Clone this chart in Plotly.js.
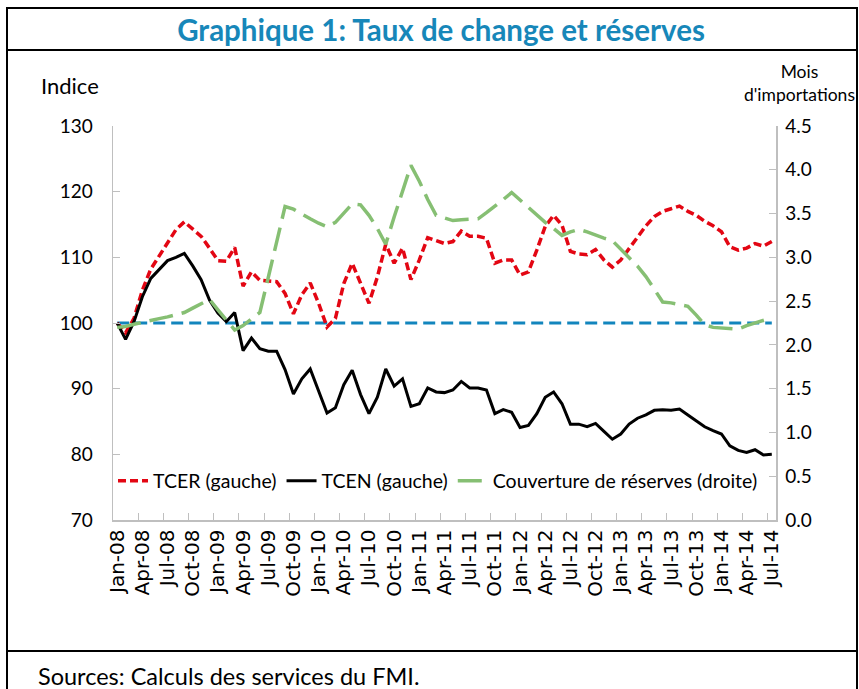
<!DOCTYPE html>
<html>
<head>
<meta charset="utf-8">
<script src="https://cdn.plot.ly/plotly-3.0.1.min.js"></script>
<style>html,body{margin:0;padding:0;background:#fff;}</style>
</head>
<body>
<div id="chart" style="width:859px;height:689px;"></div>
<script>
// ---- Data ----
const monthNames = ["Jan","Feb","Mar","Apr","May","Jun","Jul","Aug","Sep","Oct","Nov","Dec"];
const yearLabels = ["08","09","10","11","12","13","14"];
const categories = [];
for (const y of yearLabels) for (const m of monthNames) categories.push(m + "-" + y);
categories.length = 79; // Jan-08 .. Jul-14

const tickLabels = ["Jan-08","Apr-08","Jul-08","Oct-08","Jan-09","Apr-09","Jul-09","Oct-09",
  "Jan-10","Apr-10","Jul-10","Oct-10","Jan-11","Apr-11","Jul-11","Oct-11","Jan-12","Apr-12",
  "Jul-12","Oct-12","Jan-13","Apr-13","Jul-13","Oct-13","Jan-14","Apr-14","Jul-14"];

// TCER (left axis, index)
const tcer = [100, 98.5, 100.7, 105, 108.2, 110.2, 112.4, 114.2, 115.4, 114.3,
  113.2, 111.4, 109.5, 109.4, 111.5, 105.6, 107.8, 106.5, 106.4, 106.3,
  104.5, 101.4, 104.3, 106.1, 103, 99.4, 100.7, 106, 109.1, 106,
  103, 107, 112, 109.1, 111.4, 106.6, 109.6, 113, 112.5, 112.1,
  112.4, 114, 113.2, 113.2, 112.9, 109.1, 109.6, 109.6, 107.3, 107.8,
  111.1, 114.7, 116.4, 114.9, 110.9, 110.5, 110.4, 111.2, 109.6, 108.5,
  109.6, 111.4, 113, 114.8, 116.2, 117, 117.4, 117.8, 117, 116.4,
  115.5, 114.8, 113.9, 111.6, 111.1, 111.4, 112.1, 111.7, 112.4];

// TCEN (left axis, index)
const tcen = [100, 97.5, 100.2, 104, 106.8, 108.2, 109.5, 110, 110.6, 108.7,
  106.6, 103.5, 101.5, 100.2, 101.6, 95.8, 97.7, 96.1, 95.7, 95.7,
  92.9, 89.2, 91.5, 93, 89.5, 86.3, 87.1, 90.6, 92.8, 89.1,
  86.2, 88.7, 93, 90.4, 91.5, 87.3, 87.7, 90.1, 89.5, 89.4,
  89.8, 91.1, 90.1, 90.1, 89.8, 86.2, 86.8, 86.4, 84.1, 84.4,
  86.2, 88.7, 89.5, 87.7, 84.6, 84.6, 84.2, 84.7, 83.5, 82.3,
  83.1, 84.6, 85.5, 86, 86.7, 86.8, 86.7, 86.9, 86, 85.1,
  84.2, 83.6, 83.1, 81.3, 80.6, 80.3, 80.7, 79.9, 80];

// Couverture de réserves (right axis, months of imports)
const couverture = [2.20, 2.21, 2.235, 2.26, 2.28, 2.30, 2.32, 2.35, 2.37, 2.42,
  2.47, 2.52, 2.40, 2.28, 2.17, 2.22, 2.29, 2.37, 2.77, 3.18,
  3.58, 3.55, 3.49, 3.44, 3.39, 3.35, 3.40, 3.50, 3.61, 3.60,
  3.48, 3.33, 3.15, 3.46, 3.76, 4.05, 3.87, 3.66, 3.48, 3.45,
  3.42, 3.43, 3.435, 3.44, 3.51, 3.58, 3.66, 3.74, 3.655, 3.57,
  3.49, 3.40, 3.33, 3.25, 3.29, 3.32, 3.29, 3.25, 3.22, 3.19,
  3.09, 3.00, 2.90, 2.78, 2.63, 2.49, 2.48, 2.46, 2.44, 2.34,
  2.23, 2.20, 2.19, 2.18, 2.18, 2.22, 2.25, 2.28, 2.31];

// Reference line at 100
const baseline = categories.map(() => 100);

// ---- Chart ----
const traces = [
  {x: categories, y: baseline, type: 'scatter', mode: 'lines', showlegend: false, hoverinfo: 'skip',
   line: {color: '#1285BD', width: 3, dash: '12px,6px'}},
  {x: categories, y: tcer, type: 'scatter', mode: 'lines', name: 'TCER (gauche)',
   line: {color: '#E30613', width: 3.5, dash: '8px,4px'}},
  {x: categories, y: tcen, type: 'scatter', mode: 'lines', name: 'TCEN (gauche)',
   line: {color: '#000000', width: 3}},
  {x: categories, y: couverture, type: 'scatter', mode: 'lines', name: 'Couverture de réserves (droite)',
   yaxis: 'y2', line: {color: '#86BF73', width: 3.5, dash: '24px,9px'}}
];

const L = 113, T = 126, W = 663, H = 394;
const px = x => (x - L) / W;
const py = y => (T + H - y) / H;
const axisGray = '#BFBFBF';
const textFont = 'Lato, "Open Sans", sans-serif';

const layout = {
  width: 859, height: 689,
  margin: {l: L, r: 859 - L - W, t: T, b: 689 - T - H, pad: 0},
  paper_bgcolor: '#ffffff', plot_bgcolor: '#ffffff',
  title: {text: 'Graphique 1: Taux de change et réserves',
    font: {family: textFont, size: 29.5, color: '#1787B9', weight: 'bold'},
    xref: 'container', yref: 'container', x: 441 / 859, y: 1 - 31 / 689,
    xanchor: 'center', yanchor: 'middle'},
  xaxis: {type: 'category', categoryorder: 'array', categoryarray: categories,
    range: [-0.5, 78.5], tickmode: 'array', tickvals: tickLabels, ticktext: tickLabels,
    tickangle: -90, tickson: 'boundaries', ticks: 'inside', ticklen: 7, tickcolor: axisGray,
    showline: true, linecolor: axisGray, linewidth: 1.5, showgrid: false, zeroline: false,
    tickfont: {family: '"DejaVu Sans", sans-serif', size: 20, color: '#000'}},
  yaxis: {range: [70, 130], dtick: 10, ticks: 'inside', ticklen: 7, tickcolor: axisGray,
    showline: true, linecolor: axisGray, linewidth: 1.5, showgrid: false, zeroline: false,
    ticklabelstandoff: 15,
    tickfont: {family: textFont, size: 19, color: '#000'}},
  yaxis2: {overlaying: 'y', side: 'right', range: [0, 4.5], dtick: 0.5, tickformat: '.1f',
    ticks: 'inside', ticklen: 7, tickcolor: axisGray,
    showline: true, linecolor: axisGray, linewidth: 1.5, showgrid: false, zeroline: false,
    ticklabelstandoff: 4,
    tickfont: {family: textFont, size: 19, color: '#000'}},
  legend: {orientation: 'h', x: 0, xanchor: 'left', y: py(481), yanchor: 'middle',
    font: {family: textFont, size: 19.5, color: '#000'}, bgcolor: 'rgba(255,255,255,0)',
    itemwidth: 30, tracegroupgap: 0},
  annotations: [
    {text: 'Indice', xref: 'paper', yref: 'paper', x: px(70), y: py(85),
     xanchor: 'center', yanchor: 'middle', showarrow: false,
     font: {family: textFont, size: 22, color: '#000'}},
    {text: 'Mois<br>d\'importations', xref: 'paper', yref: 'paper', x: px(799), y: py(83),
     xanchor: 'center', yanchor: 'middle', showarrow: false, align: 'center',
     font: {family: textFont, size: 17.5, color: '#000'}},
    {text: 'Sources: Calculs des services du FMI.', xref: 'paper', yref: 'paper', x: px(36), y: py(676),
     xanchor: 'left', yanchor: 'middle', showarrow: false,
     font: {family: textFont, size: 23.5, color: '#000'}}
  ],
  shapes: [
    {type: 'line', xref: 'paper', yref: 'paper', x0: px(7), x1: px(7), y0: py(7), y1: py(700),
     line: {color: '#000', width: 2}},
    {type: 'line', xref: 'paper', yref: 'paper', x0: px(857), x1: px(857), y0: py(7), y1: py(700),
     line: {color: '#000', width: 2}},
    {type: 'line', xref: 'paper', yref: 'paper', x0: px(7), x1: px(857), y0: py(8), y1: py(8),
     line: {color: '#000', width: 2}},
    {type: 'line', xref: 'paper', yref: 'paper', x0: px(7), x1: px(857), y0: py(50), y1: py(50),
     line: {color: '#000', width: 2}},
    {type: 'line', xref: 'paper', yref: 'paper', x0: px(7), x1: px(857), y0: py(651), y1: py(651),
     line: {color: '#000', width: 2}}
  ]
};

Plotly.newPlot('chart', traces, layout, {displayModeBar: false, staticPlot: true});
</script>
</body>
</html>
